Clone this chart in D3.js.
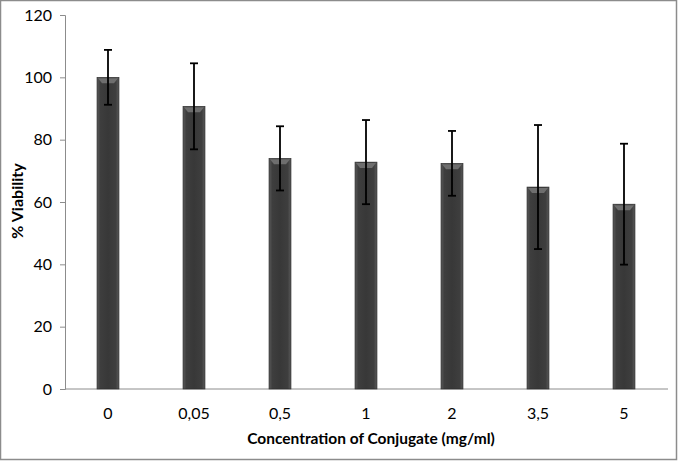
<!DOCTYPE html>
<html><head><meta charset="utf-8">
<script src="https://cdn.jsdelivr.net/npm/d3@7"></script>
<style>body{margin:0;background:#fff}svg{display:block}</style>
</head><body>
<script>
const categories = ["0","0,05","0,5","1","2","3,5","5"];
const viability = [100, 90.7, 74, 72.8, 72.4, 64.8, 59.3];
const errors = [8.8, 13.8, 10.3, 13.5, 10.4, 19.9, 19.4];
const yTicks = [0,20,40,60,80,100,120];

const W=678,H=461;
const svg=d3.select("body").append("svg").attr("width",W).attr("height",H);
const font="Lato, 'Open Sans', sans-serif";

svg.append("rect").attr("x",0.5).attr("y",0.5).attr("width",W-2).attr("height",H-2)
  .attr("fill","#fff").attr("stroke","#8c8c8c").attr("stroke-width",1.5);

const x=d3.scaleBand().domain(categories).range([65,667]).padding(0);
const y=d3.scaleLinear().domain([0,120]).range([389,15]);
const bw=22;

const defs=svg.append("defs");
const g=defs.append("linearGradient").attr("id","bar").attr("x1","0").attr("x2","1");
g.append("stop").attr("offset","0").attr("stop-color","#5a5a5a");
g.append("stop").attr("offset","0.15").attr("stop-color","#3e3e3e");
g.append("stop").attr("offset","0.5").attr("stop-color","#383838");
g.append("stop").attr("offset","0.85").attr("stop-color","#3e3e3e");
g.append("stop").attr("offset","1").attr("stop-color","#5a5a5a");

// y axis
const ya=svg.append("g").attr("transform","translate(65,0)")
  .call(d3.axisLeft(y).tickValues(yTicks).tickSize(5).tickPadding(8));
ya.select(".domain").attr("stroke","#8c8c8c");
ya.selectAll(".tick line").attr("stroke","#8c8c8c");
ya.selectAll("text").attr("font-family",font).attr("font-size",16).attr("fill","#000");

// x axis
const xa=svg.append("g").attr("transform","translate(0,389)")
  .call(d3.axisBottom(x).tickSize(0).tickPadding(19));
xa.select(".domain").attr("stroke","#8c8c8c").attr("d","M65,0H668");
xa.selectAll("text").attr("font-family",font).attr("font-size",16).attr("fill","#000");

// bars
const bars=svg.append("g");
categories.forEach((c,i)=>{
  const cx=x(c)+x.bandwidth()/2;
  const x0=cx-bw/2, yt=y(viability[i]);
  bars.append("rect").attr("x",x0).attr("y",yt).attr("width",bw).attr("height",y(0)-yt)
    .attr("fill","url(#bar)").attr("stroke","#2a2a2a").attr("stroke-width",0.6);
  bars.append("path").attr("d",`M${x0+1},${yt+1}H${x0+bw-1}L${x0+bw-5},${yt+6}H${x0+5}Z`)
    .attr("fill","#6e6e6e");
});

// error bars
const eb=svg.append("g").attr("stroke","#000").attr("stroke-width",1.8);
categories.forEach((c,i)=>{
  const cx=x(c)+x.bandwidth()/2;
  const hi=y(viability[i]+errors[i]), lo=y(viability[i]-errors[i]);
  eb.append("line").attr("x1",cx).attr("x2",cx).attr("y1",hi).attr("y2",lo);
  eb.append("line").attr("x1",cx-4).attr("x2",cx+4).attr("y1",hi).attr("y2",hi);
  eb.append("line").attr("x1",cx-4).attr("x2",cx+4).attr("y1",lo).attr("y2",lo);
});

svg.append("text").attr("x",371).attr("y",444).attr("text-anchor","middle")
  .attr("font-family",font).attr("font-weight","bold").attr("font-size",15.5)
  .text("Concentration of Conjugate (mg/ml)");
svg.append("text").attr("transform","translate(23,201) rotate(-90)").attr("text-anchor","middle")
  .attr("font-family",font).attr("font-weight","bold").attr("font-size",16)
  .text("% Viability");
</script>
</body></html>
